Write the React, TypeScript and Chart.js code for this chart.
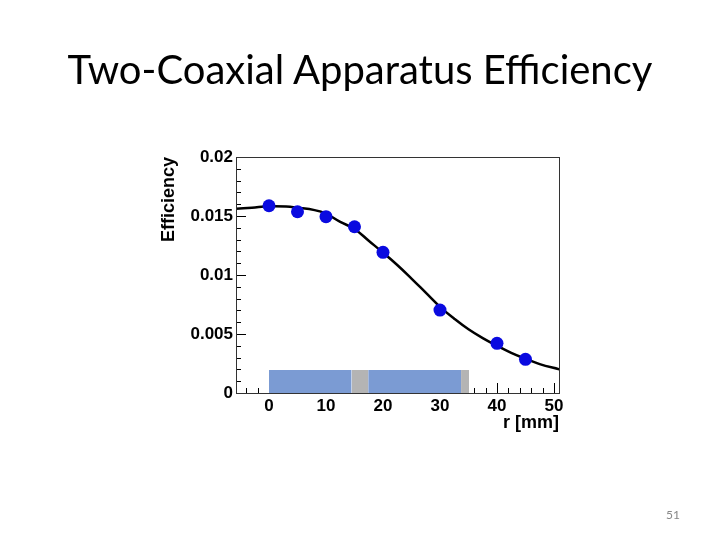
import React, { useEffect, useRef } from "react";
import { Chart, registerables } from "chart.js";

Chart.register(...registerables);

// ---- data ----
const pointR = [0, 5, 10, 15, 20, 30, 40, 45];
const pointEff = [0.01587, 0.01536, 0.01494, 0.01409, 0.01192, 0.00703, 0.00421, 0.00285];

const fitR = [-6, -3, 0, 3, 5, 8, 10, 12.5, 15, 17.5, 20, 22.5, 25, 27.5, 30, 32.5, 35, 37.5, 40, 42.5, 45, 47.5, 51];
const fitEff = [0.0156, 0.0157, 0.01582, 0.0158, 0.0157, 0.0155, 0.0152, 0.0145, 0.0139, 0.0129, 0.0119, 0.01085, 0.0097, 0.0085, 0.0073, 0.0063, 0.0054, 0.00465, 0.0040, 0.0034, 0.0029, 0.00245, 0.002];

const bandStart = [0, 14.5, 17.4, 33.7];
const bandEnd = [14.5, 17.4, 33.7, 35.1];
const bandKind = ["blue", "gray", "blue", "gray"];
const bandTop = 0.00195;

const xTickValues = [0, 10, 20, 30, 40, 50];
const xTickLabels = ["0", "10", "20", "30", "40", "50"];
const yTickValues = [0, 0.005, 0.01, 0.015, 0.02];
const yTickLabels = ["0", "0.005", "0.01", "0.015", "0.02"];

const titleText = "Two-Coaxial Apparatus Efficiency";
const xTitle = "r [mm]";
const yTitle = "Efficiency";
const pageNumber = "51";

// ---- styles ----
const bandColors: Record<string, string> = { blue: "#7b9bd3", gray: "#b4b4b4" };
const fontFamily = "'Liberation Sans', Arial, sans-serif";
const tickFont = { family: fontFamily, weight: "bold" as const, size: 17 };
const titleFont = { family: fontFamily, weight: "bold" as const, size: 18 };

const frameTicks = {
  id: "frameTicks",
  beforeDatasetsDraw(chart: any) {
    const { ctx, chartArea, scales } = chart;
    const { left, bottom } = chartArea;
    const x = scales.x;
    const y = scales.y;
    ctx.save();
    ctx.strokeStyle = "#000";
    ctx.lineWidth = 1;
    ctx.beginPath();
    for (let i = -2; i <= 25; i++) {
      const v = i * 2;
      const px = Math.round(x.getPixelForValue(v)) + 0.5;
      const len = i % 5 === 0 ? 10 : 5;
      ctx.moveTo(px, bottom);
      ctx.lineTo(px, bottom - len);
    }
    for (let i = 0; i <= 20; i++) {
      const v = i * 0.001;
      const py = Math.round(y.getPixelForValue(v)) + 0.5;
      const len = i % 5 === 0 ? 10 : 5;
      ctx.moveTo(left, py);
      ctx.lineTo(left + len, py);
    }
    ctx.stroke();
    ctx.restore();
  },
  afterDatasetsDraw(chart: any) {
    const { ctx, chartArea } = chart;
    const { left, right, top, bottom } = chartArea;
    ctx.save();
    ctx.strokeStyle = "#333";
    ctx.lineWidth = 1;
    ctx.strokeRect(Math.round(left) + 0.5, Math.round(top) + 0.5, Math.round(right - left), Math.round(bottom - top));
    ctx.restore();
  },
};

export default function App() {
  const canvasRef = useRef<HTMLCanvasElement | null>(null);

  useEffect(() => {
    if (!canvasRef.current) return;

    const bandDatasets = bandStart.map((s, i) => ({
      type: "line" as const,
      data: [
        { x: s, y: bandTop },
        { x: bandEnd[i], y: bandTop },
      ],
      borderWidth: 0,
      borderColor: "rgba(0,0,0,0)",
      backgroundColor: bandColors[bandKind[i]],
      fill: "origin",
      pointRadius: 0,
      order: 3,
    }));

    const chart = new Chart(canvasRef.current, {
      type: "scatter",
      data: {
        datasets: [
          ...bandDatasets,
          {
            type: "line" as const,
            data: fitR.map((r, i) => ({ x: r, y: fitEff[i] })),
            borderColor: "#000",
            borderWidth: 2.5,
            pointRadius: 0,
            fill: false,
            tension: 0.4,
            order: 2,
          },
          {
            type: "scatter" as const,
            data: pointR.map((r, i) => ({ x: r, y: pointEff[i] })),
            backgroundColor: "#0a0ae0",
            borderWidth: 0,
            pointRadius: 6.5,
            order: 1,
          },
        ] as any,
      },
      options: {
        responsive: false,
        animation: false,
        events: [],
        layout: { padding: { left: 150, right: 161, top: 157, bottom: 97 } },
        plugins: { legend: { display: false }, tooltip: { enabled: false } },
        scales: {
          x: {
            type: "linear",
            min: -5.79,
            max: 50.88,
            afterFit(s: any) {
              s.height = 50;
            },
            afterBuildTicks(s: any) {
              s.ticks = xTickValues.map((v) => ({ value: v }));
            },
            grid: { display: false, drawTicks: false },
            border: { display: false },
            ticks: {
              padding: 3,
              autoSkip: false,
              maxRotation: 0,
              color: "#000",
              font: tickFont,
              callback: (_v: any, i: number) => xTickLabels[i],
            },
            title: {
              display: true,
              text: xTitle,
              align: "end",
              color: "#000",
              font: titleFont,
              padding: { top: 0, bottom: 8.9 },
            },
          },
          y: {
            type: "linear",
            min: 0,
            max: 0.02,
            afterFit(s: any) {
              s.width = 86;
            },
            afterBuildTicks(s: any) {
              s.ticks = yTickValues.map((v) => ({ value: v }));
            },
            grid: { display: false, drawTicks: false },
            border: { display: false },
            ticks: {
              padding: 3,
              autoSkip: false,
              color: "#000",
              font: tickFont,
              callback: (_v: any, i: number) => yTickLabels[i],
            },
            title: {
              display: true,
              text: yTitle,
              align: "end",
              color: "#000",
              font: titleFont,
              padding: { top: 8.2, bottom: 0 },
            },
          },
        },
      } as any,
      plugins: [frameTicks],
    });

    return () => chart.destroy();
  }, []);

  return (
    <div style={{ position: "fixed", left: 0, top: 0, width: 720, height: 540, background: "#fff", overflow: "hidden" }}>
      <canvas ref={canvasRef} width={720} height={540} style={{ position: "absolute", left: 0, top: 0, display: "block" }} />
      <div
        style={{
          position: "absolute",
          left: 0,
          top: 44.5,
          width: 720,
          textAlign: "center",
          fontFamily: "Lato, 'Open Sans', sans-serif",
          fontSize: 40,
          lineHeight: "48px",
          color: "#000",
          whiteSpace: "nowrap",
        }}
      >
        {titleText}
      </div>
      <div
        style={{
          position: "absolute",
          left: 653,
          top: 507,
          width: 40,
          textAlign: "center",
          fontFamily: "Lato, 'Open Sans', sans-serif",
          fontSize: 12,
          lineHeight: "16px",
          color: "#888",
        }}
      >
        {pageNumber}
      </div>
    </div>
  );
}
